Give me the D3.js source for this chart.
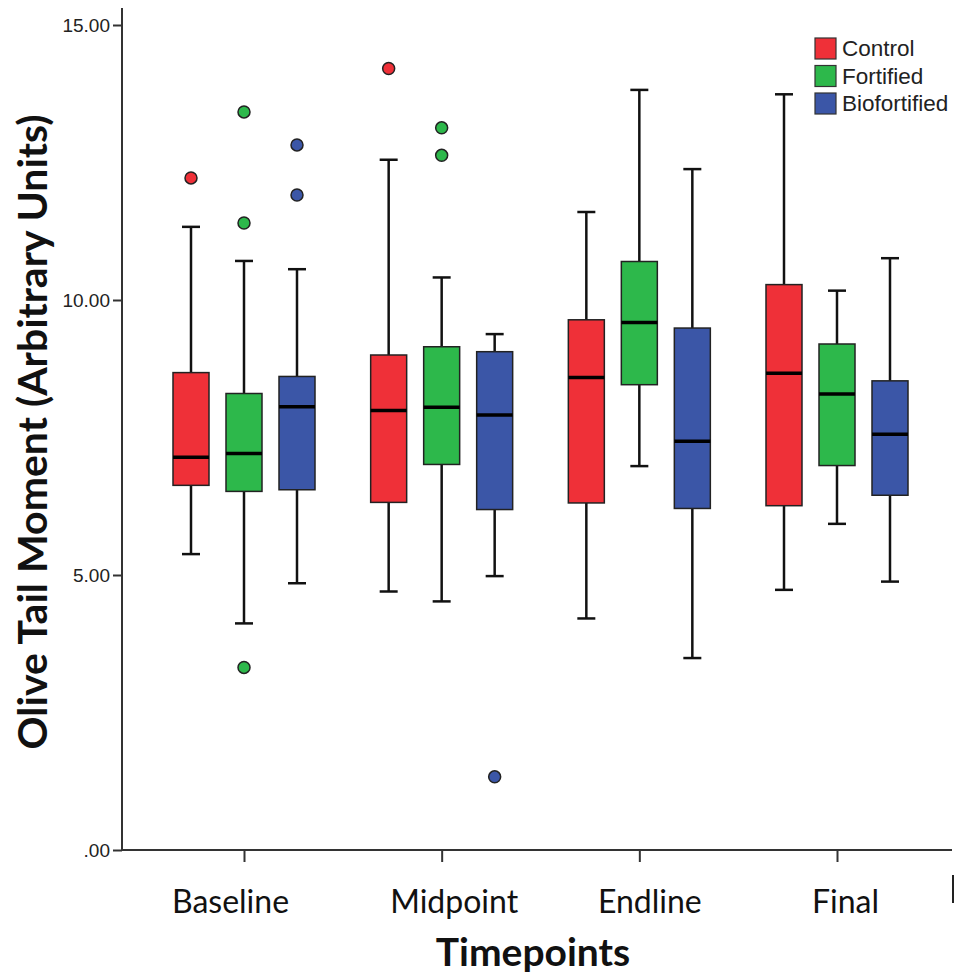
<!DOCTYPE html>
<html>
<head>
<meta charset="utf-8">
<script src="https://d3js.org/d3.v7.min.js"></script>
<style>
  body { margin: 0; background: #fff; }
  svg { display: block; }
</style>
</head>
<body>
<svg id="chart" width="955" height="977"></svg>
<script>
// categories and groups
var timepoints = ["Baseline", "Midpoint", "Endline", "Final"];
var groups = ["Control", "Fortified", "Biofortified"];
var yTicks = [0, 5, 10, 15];
var yTickLabels = [".00", "5.00", "10.00", "15.00"];

// box stats per timepoint: [whisker low, Q1, median, Q3, whisker high]
var controlBox = [
	[5.38, 6.63, 7.14, 8.68, 11.33],
	[4.70, 6.32, 7.99, 9.00, 12.55],
	[4.21, 6.31, 8.59, 9.64, 11.60],
	[4.73, 6.26, 8.67, 10.28, 13.74]
];
var fortifiedBox = [
	[4.12, 6.52, 7.21, 8.30, 10.71],
	[4.52, 7.01, 8.05, 9.15, 10.41],
	[6.98, 8.46, 9.59, 10.70, 13.82],
	[5.93, 6.99, 8.29, 9.20, 10.17]
];
var biofortifiedBox = [
	[4.85, 6.55, 8.06, 8.61, 10.56],
	[4.98, 6.19, 7.91, 9.06, 9.38],
	[3.49, 6.21, 7.43, 9.49, 12.38],
	[4.88, 6.45, 7.56, 8.53, 10.76]
];

// outliers per timepoint
var controlOut = [[12.22], [14.21], [], []];
var fortifiedOut = [[11.40, 13.42, 3.32], [13.13, 12.63], [], []];
var biofortifiedOut = [[11.91, 12.82], [1.33], [], []];

var colors = ["#ef3038", "#2db84b", "#3b56a7"];

var boxes = [controlBox, fortifiedBox, biofortifiedBox];
var outs = [controlOut, fortifiedOut, biofortifiedOut];

var svg = d3.select("#chart");
var MARGINS = { top: 25, right: 3, bottom: 127, left: 122 },
	WIDTH = 955, HEIGHT = 977;

var yScale = d3.scaleLinear().domain([0, 15]).range([HEIGHT - MARGINS.bottom, MARGINS.top]);
var xScale = d3.scalePoint().domain(timepoints).range([244, 837]);
var gScale = d3.scalePoint().domain(groups).range([-53, 53]);
var BOX_W = 36, CAP_W = 18;
// label nudges seen in the original
var labelDx = [-14, 12, 10, 8];

// axes
var yAxis = d3.axisLeft(yScale).tickValues(yTicks).tickSize(9).tickPadding(3)
	.tickFormat(function(d, i) { return yTickLabels[i]; });
var gy = svg.append("g").attr("transform", "translate(" + MARGINS.left + ",0)").call(yAxis);
gy.select(".domain").remove();
gy.selectAll(".tick line").attr("stroke", "#333").attr("stroke-width", 2);
gy.selectAll(".tick text").attr("fill", "#222").attr("dy", "0.36em")
	.style("font-family", "Liberation Sans, Arial, sans-serif").style("font-size", "19px");
gy.append("line").attr("x1", 0).attr("x2", 0).attr("y1", 8).attr("y2", yScale(0) + 1)
	.attr("stroke", "#333").attr("stroke-width", 2);

var xAxis = d3.axisBottom(xScale).tickSize(12).tickPadding(28);
var gx = svg.append("g").attr("transform", "translate(0," + yScale(0) + ")").call(xAxis);
gx.select(".domain").remove();
gx.append("line").attr("x1", MARGINS.left).attr("x2", 952).attr("y1", 0).attr("y2", 0)
	.attr("stroke", "#333").attr("stroke-width", 2);
gx.selectAll(".tick line").attr("stroke", "#333").attr("stroke-width", 2);
gx.selectAll(".tick text").attr("fill", "#111")
	.attr("dx", function(d, i) { return labelDx[i]; })
	.style("font-family", "Lato, 'Open Sans', sans-serif").style("font-size", "32px");

// stray marker at right edge
svg.append("line").attr("x1", 953).attr("x2", 953).attr("y1", 875).attr("y2", 903)
	.attr("stroke", "#222").attr("stroke-width", 2);

// boxes
groups.forEach(function(g, gi) {
	timepoints.forEach(function(t, ti) {
		var s = boxes[gi][ti];
		var cx = xScale(t) + gScale(g);
		var grp = svg.append("g");
		// whiskers
		grp.append("line").attr("x1", cx).attr("x2", cx).attr("y1", yScale(s[0])).attr("y2", yScale(s[1]))
			.attr("stroke", "#111").attr("stroke-width", 2.5);
		grp.append("line").attr("x1", cx).attr("x2", cx).attr("y1", yScale(s[3])).attr("y2", yScale(s[4]))
			.attr("stroke", "#111").attr("stroke-width", 2.5);
		[s[0], s[4]].forEach(function(v) {
			grp.append("line").attr("x1", cx - CAP_W / 2).attr("x2", cx + CAP_W / 2)
				.attr("y1", yScale(v)).attr("y2", yScale(v))
				.attr("stroke", "#111").attr("stroke-width", 2.5);
		});
		// box
		grp.append("rect").attr("x", cx - BOX_W / 2).attr("width", BOX_W)
			.attr("y", yScale(s[3])).attr("height", yScale(s[1]) - yScale(s[3]))
			.attr("fill", colors[gi]).attr("stroke", "#222").attr("stroke-width", 1.5);
		// median
		grp.append("line").attr("x1", cx - BOX_W / 2).attr("x2", cx + BOX_W / 2)
			.attr("y1", yScale(s[2])).attr("y2", yScale(s[2]))
			.attr("stroke", "#000").attr("stroke-width", 3.5);
		// outliers
		outs[gi][ti].forEach(function(v) {
			grp.append("circle").attr("cx", cx).attr("cy", yScale(v)).attr("r", 6)
				.attr("fill", colors[gi]).attr("stroke", "#222").attr("stroke-width", 1.5);
		});
	});
});

// legend
var legend = svg.append("g").attr("transform", "translate(815,38)");
groups.forEach(function(g, i) {
	legend.append("rect").attr("x", 0).attr("y", i * 27.5).attr("width", 21).attr("height", 21)
		.attr("fill", colors[i]).attr("stroke", "#333").attr("stroke-width", 1.2);
	legend.append("text").attr("x", 27).attr("y", i * 27.5 + 18)
		.style("font-family", "Liberation Sans, Arial, sans-serif").style("font-size", "22.5px")
		.attr("fill", "#222").text(g);
});

// axis titles
svg.append("text").attr("text-anchor", "middle")
	.attr("transform", "translate(533,966)")
	.style("font-family", "Lato, 'Open Sans', sans-serif").style("font-size", "39px").style("font-weight", "bold")
	.attr("fill", "#111").text("Timepoints");
svg.append("text").attr("text-anchor", "middle")
	.attr("transform", "translate(47,432) rotate(-90)")
	.style("font-family", "Lato, 'Open Sans', sans-serif").style("font-size", "41px").style("font-weight", "bold")
	.attr("fill", "#111").text("Olive Tail Moment (Arbitrary Units)");
</script>
</body>
</html>
